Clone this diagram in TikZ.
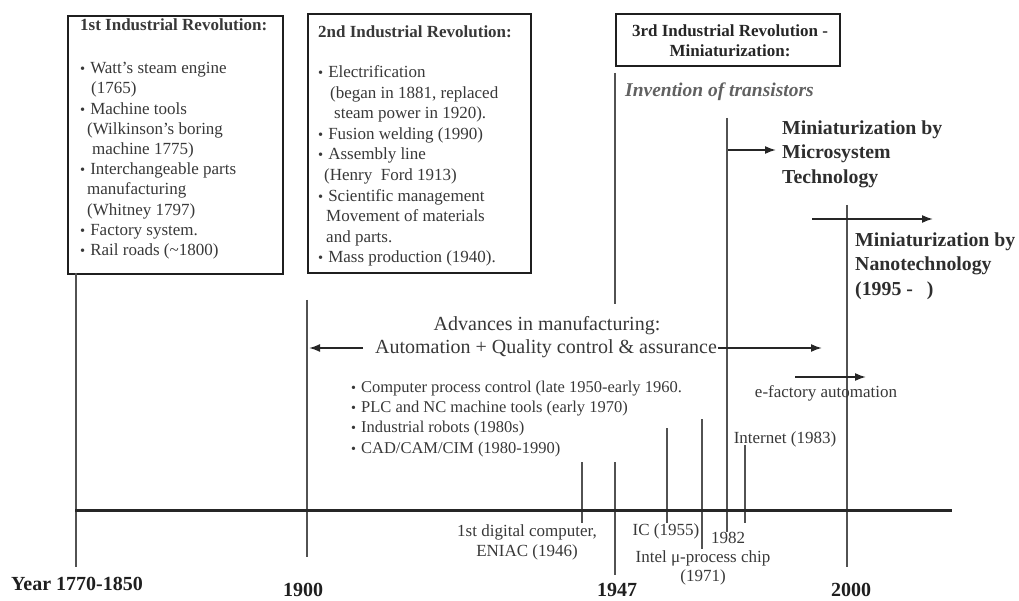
\documentclass[tikz,border=0pt]{standalone}
\usepackage{fontspec}
\setmainfont{Liberation Serif}
\usepackage{graphicx}
\usetikzlibrary{arrows.meta}
\newcommand{\bul}{\scalebox{0.85}{\textbullet}\hspace{5pt}}
\begin{document}
\begin{tikzpicture}[x=1pt,y=-1pt,
  boxframe/.style={draw=black!88, line width=2.3pt, inner sep=0, anchor=north west},
  tick/.style={draw=black!68, line width=1.7pt},
  axis/.style={draw=black!85, line width=3pt},
  arr/.style={draw=black!85, line width=1.7pt, -{Latex[length=11pt,width=8pt]}},
  body/.style={text=black!78, inner sep=0, align=left, anchor=north west, font=\fontsize{17}{20.2}\selectfont},
  lbl/.style={text=black!78, inner sep=0, align=center, font=\fontsize{17}{20}\selectfont},
  mid/.style={text=black!78, inner sep=0, font=\fontsize{20}{23}\selectfont},
  year/.style={text=black!88, inner sep=0, font=\fontsize{20}{23}\selectfont\bfseries},
  big/.style={text=black!82, inner sep=0, align=left, anchor=west, font=\fontsize{19.8}{24.5}\selectfont\bfseries}
]
\useasboundingbox (0,0) rectangle (1019,601);

% boxes
\node[boxframe, minimum width=215pt, minimum height=258pt] (box1) at (67,15) {};
\node[boxframe, minimum width=223pt, minimum height=259pt] (box2) at (307,13) {};
\node[boxframe, minimum width=224pt, minimum height=52pt] (box3) at (615,13) {};

\node[body] (b1text) at (80,18.5) {\textbf{1st Industrial Revolution:}\\[23pt]
\bul Watt’s steam engine\\
\hspace*{11pt}(1765)\\
\bul Machine tools\\
\hspace*{7pt}(Wilkinson’s boring\\
\hspace*{12pt}machine 1775)\\
\bul Interchangeable parts\\
\hspace*{7pt}manufacturing\\
\hspace*{7pt}(Whitney 1797)\\
\bul Factory system.\\
\bul Rail roads (\textasciitilde1800)};

\node[body, font=\fontsize{17}{20.6}\selectfont] (b2text) at (318,25.5) {\textbf{2nd Industrial Revolution:}\\[19.4pt]
\bul Electrification\\
\hspace*{12pt}(began in 1881, replaced\\
\hspace*{16pt}steam power in 1920).\\
\bul Fusion welding (1990)\\
\bul Assembly line\\
\hspace*{6pt}(Henry\ \ Ford 1913)\\
\bul Scientific management\\
\hspace*{8pt}Movement of materials\\
\hspace*{8pt}and parts.\\
\bul Mass production (1940).};

\node[inner sep=0, align=center, text=black!85, font=\fontsize{17}{20}\selectfont\bfseries] (b3text) at (730,41) {3rd Industrial Revolution -\\Miniaturization:};

% ticks
\foreach \n/\x/\a/\b in {t1770/76/273/567, t1900/307/300/557, t1947u/615/73/304, t1947l/615/462/575,
  teniac/582/462/523, tic/667/428/523, tintel/702/419/549, t1982/727/118/532, tinet/745/445/523, t2000/847/205/567}{
  \coordinate (\n-a) at (\x,\a);
  \coordinate (\n-b) at (\x,\b);
  \draw[tick] (\n-a) -- (\n-b);
}

% timeline axis
\coordinate (axL) at (75,510);
\coordinate (axR) at (952,510);
\draw[axis] (axL) -- (axR);

% texts
\node[anchor=west, inner sep=0, text=black!62, font=\fontsize{19.5}{22}\selectfont\bfseries\itshape] (inv) at (625,92) {Invention of transistors};
\node[big] (micro) at (782,154) {Miniaturization by\\Microsystem\\Technology};
\node[big] (nano) at (855,266) {Miniaturization by\\Nanotechnology\\(1995 -\hspace{14pt})};

\node[mid] (adv) at (547,326) {Advances in manufacturing:};
\node[mid] (auto) at (546,349) {Automation + Quality control \& assurance};

\node[body, font=\fontsize{16.5}{20.3}\selectfont] (list) at (351,380.7) {\bul Computer process control (late 1950-early 1960.\\
\bul PLC and NC machine tools (early 1970)\\
\bul Industrial robots (1980s)\\
\bul CAD/CAM/CIM (1980-1990)};

\node[lbl] (efac) at (826,393) {e-factory automation};
\node[lbl] (inet) at (785,439) {Internet (1983)};
\node[lbl] (eniac) at (527,542) {1st digital computer,\\ENIAC (1946)};
\node[lbl] (ic) at (666,531) {IC (1955)};
\node[lbl] (y82) at (728,538) {1982};
\node[lbl, font=\fontsize{17}{19.5}\selectfont] (intel) at (703,568) {Intel μ-process chip\\(1971)};

\node[year] (yr1) at (77,584) {Year 1770-1850};
\node[year] (yr2) at (303,590) {1900};
\node[year] (yr3) at (617,590) {1947};
\node[year] (yr4) at (851,590) {2000};

% arrows
\coordinate (aL0) at (363,348);
\coordinate (aL1) at (309,348);
\draw[arr] (aL0) -- (aL1);
\coordinate (aR0) at (718,348);
\coordinate (aR1) at (822,348);
\draw[arr] (aR0) -- (aR1);
\coordinate (m0) at (728,150);
\coordinate (m1) at (776,150);
\draw[arr] (m0) -- (m1);
\coordinate (n0) at (812,219);
\coordinate (n1) at (933,219);
\draw[arr] (n0) -- (n1);
\coordinate (e0) at (795,377);
\coordinate (e1) at (866,377);
\draw[arr] (e0) -- (e1);
\end{tikzpicture}
\end{document}
